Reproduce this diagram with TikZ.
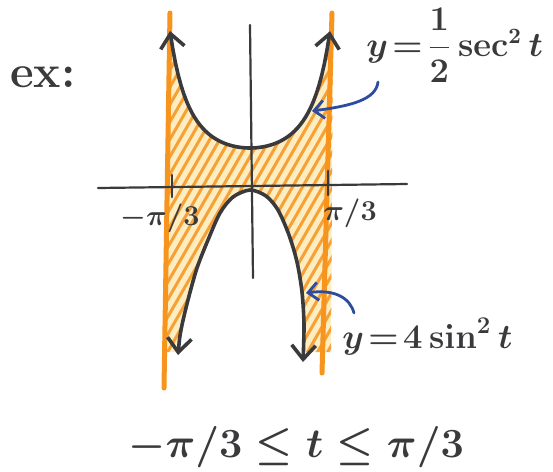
\documentclass[tikz,border=0pt]{standalone}
\usepackage{amsmath}
\usepackage{tikz}
\usetikzlibrary{arrows.meta}
\definecolor{markergray}{HTML}{3A3A3C}
\definecolor{markerorange}{HTML}{F7941E}
\definecolor{hatchorange}{HTML}{F6A035}
\definecolor{paleorange}{HTML}{FFEDC2}
\definecolor{markerblue}{HTML}{2C4C9E}
\tikzset{graphline/.style={draw=markergray,line width=1.8pt,line cap=round,
 arrows={Straight Barb[length=7pt,width=12pt]-Straight Barb[length=7pt,width=12pt]}},
 axisline/.style={draw=markergray,line width=1.1pt,line cap=round},
 tickmark/.style={draw=markergray,line width=1.4pt,line cap=round},
 strip/.style={draw=markerorange,line width=2.5pt,line cap=round},
 hatch/.style={draw=hatchorange,line width=1.5pt,line cap=round},
 pointer/.style={draw=markerblue,line width=1.4pt,line cap=round,
 -{Straight Barb[length=5pt,width=9pt]}},
 lbl/.style={text=markergray,inner sep=0pt}}
\begin{document}
\begin{tikzpicture}[x=0.5pt,y=-0.5pt]
 \useasboundingbox (0,0) rectangle (553,472);
 \begin{scope}
  \clip plot[domain=-1.0472:1.0472,samples=60]
     ({250+76.4*\x},{187-39/(cos(\x r)*cos(\x r))})
   -- (333,20) -- (331,352) -- (304,352)
   -- plot[smooth] coordinates {(304,325) (302,292) (297,262) (289,235)
     (278,210) (266,196) (250,190) (233,197) (220,213) (208,240)
     (197,268) (188,300) (181,330) (180,352)}
   -- (166,352) -- (168,20) -- cycle;
  \fill[paleorange] (150,0) rectangle (350,400);
  \foreach \a in {-120,-110,...,360}
   \draw[hatch] (\a,400) -- ++(230,-400);
 \end{scope}
 \draw[strip] (170,13) -- (164,388);
 \draw[strip] (332,13) -- (322,373);
 \draw[axisline] (250,25) -- (253,278);
 \draw[axisline] (98,188) -- (407,184);
 \draw[tickmark] (172,175) -- (172,197);
 \draw[tickmark] (328,171) -- (328,195);
 \draw[graphline] plot[domain=-1.0472:1.0472,samples=60]
   ({250+76.4*\x},{187-39/(cos(\x r)*cos(\x r))});
 \draw[graphline] plot[smooth] coordinates {(178,355) (181,330) (188,300)
   (197,268) (208,240) (220,213) (233,197) (250,190) (266,196) (278,210)
   (289,235) (297,262) (302,292) (304,325) (303,362)};
 \node[lbl,anchor=base west,font=\fontsize{23}{27}\selectfont\bfseries] (exlbl) at (10,87) {ex:};
 \node[lbl,anchor=base west,font=\fontsize{16}{20}\selectfont\boldmath] (seclbl) at (366,56)
  {$y\!=\!\dfrac{1}{2}\sec^2 t$};
 \node[lbl,anchor=base west,font=\fontsize{17}{21}\selectfont\boldmath] (sinlbl) at (342,348)
  {$y\!=\!4\sin^2 t$};
 \node[lbl,font=\fontsize{15}{18}\selectfont\boldmath] (lefttick) at (160,218) {$-\pi/3$};
 \node[lbl,font=\fontsize{15}{18}\selectfont\boldmath] (righttick) at (350,213) {$\pi/3$};
 \node[lbl,anchor=base west,font=\fontsize{19.5}{24}\selectfont\boldmath] (rangelbl) at (128,457)
  {$-\pi/3\le t\le \pi/3$};
 \coordinate (secfoot) at (378,82);
 \coordinate (sectouch) at (312,111);
 \coordinate (sinfoot) at (354,313);
 \coordinate (sintouch) at (306,293);
 \draw[pointer] (secfoot) .. controls (376,100) and (350,106) .. (sectouch);
 \draw[pointer] (sinfoot) .. controls (350,298) and (335,289) .. (sintouch);
\end{tikzpicture}
\end{document}
